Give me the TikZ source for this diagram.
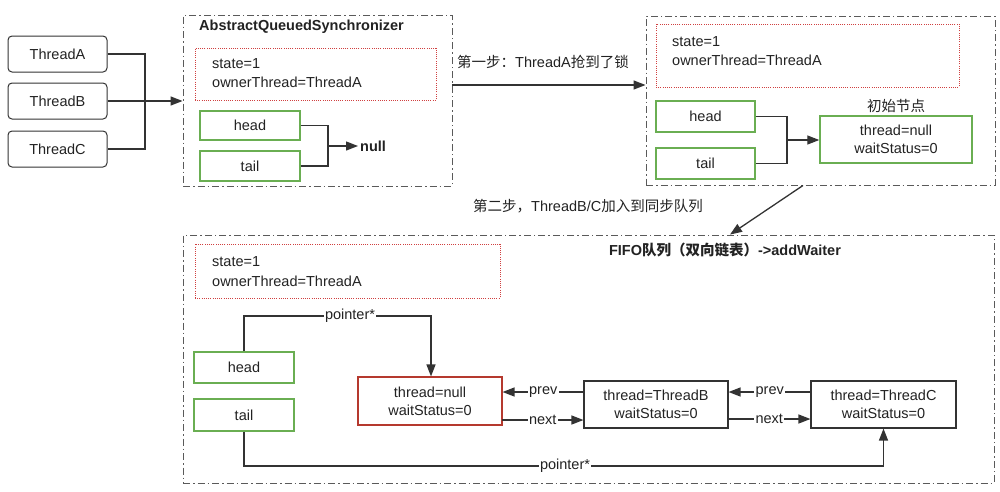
\documentclass[tikz,border=0pt]{standalone}
\usepackage{fontspec}
\setmainfont{Liberation Sans}
\newfontfamily\cjk{Noto Sans CJK SC}
\usetikzlibrary{arrows.meta,calc}
\definecolor{ln}{HTML}{333333}
\definecolor{txtc}{HTML}{222222}
\definecolor{gbox}{HTML}{6AAE52}
\definecolor{rdot}{HTML}{D04040}
\definecolor{rbox}{HTML}{B5392E}
\definecolor{frm}{HTML}{5A5A5A}
\tikzset{
  thbox/.style={draw=ln, rounded corners=4pt, minimum width=99pt, minimum height=36pt, inner sep=0pt, line width=1pt},
  frame/.style={draw=frm, line width=0.9pt, dash pattern=on 7pt off 3pt on 1.5pt off 3pt, inner sep=0pt},
  reddot/.style={draw=rdot, line width=1pt, dash pattern=on 1pt off 1.2pt, inner sep=0pt},
  gnode/.style={draw=gbox, line width=1.4pt, inner sep=0pt, minimum width=100pt, minimum height=30pt},
  qnode/.style={draw=ln, line width=1.1pt, inner sep=0pt, align=center, minimum width=144pt, minimum height=47pt},
  conn/.style={draw=ln, line width=1.3pt},
  arr/.style={conn, -{Triangle[length=12pt,width=9pt]}},
  lbl/.style={inner sep=1.5pt, fill=white},
  txt/.style={inner sep=0pt, anchor=west},
}
\begin{document}
\begin{tikzpicture}[x=1pt,y=-1pt, font=\fontsize{14.5}{18}\selectfont, text=txtc]
\useasboundingbox (0,0) rectangle (1000,491);

% threads
\node[thbox] (tA) at (57.5,54) {ThreadA};
\node[thbox] (tB) at (57.5,101) {ThreadB};
\node[thbox] (tC) at (57.5,149) {ThreadC};

% frame 1
\node[frame, minimum width=269pt, minimum height=171pt] (f1) at (317.5,100.5) {};
\node[txt, font=\fontsize{14.5}{18}\selectfont\bfseries] (t1) at (199,27) {AbstractQueuedSynchronizer};
\node[reddot, minimum width=241pt, minimum height=52pt] (r1) at (315.5,74) {};
\node[txt] (s1) at (212,64) {state=1};
\node[txt] (o1) at (212,82) {ownerThread=ThreadA};
\node[gnode, minimum height=29pt] (h1) at (250,125.5) {head};
\node[gnode] (l1) at (250,166) {tail};
\node[inner sep=2pt, anchor=west, font=\fontsize{14.5}{18}\selectfont\bfseries] (nul) at (358,146) {null};
\coordinate (j1) at (328,146);

% frame 2
\node[frame, minimum width=349pt, minimum height=169pt] (f2) at (820.5,100.5) {};
\node[reddot, minimum width=303pt, minimum height=63pt] (r2) at (807.5,55.5) {};
\node[txt] (s2) at (672,42) {state=1};
\node[txt] (o2) at (672,60) {ownerThread=ThreadA};
\node[gnode, minimum width=99pt, minimum height=31pt] (h2) at (705.5,116.5) {head};
\node[gnode, minimum width=99pt, minimum height=31pt] (l2) at (705.5,163.5) {tail};
\node[gnode, minimum width=152pt, minimum height=47pt, align=center] (ini) at (896,139.5) {thread=null\\waitStatus=0};
\node[inner sep=0pt, font=\fontsize{14.5}{18}\selectfont\cjk] (inl) at (896,106) {初始节点};
\coordinate (j2) at (787,140);

% step labels
\node[inner sep=0pt] (st1) at (543,62) {{\cjk 第一步：}ThreadA{\cjk 抢到了锁}};
\node[inner sep=0pt] (st2) at (588,206) {{\cjk 第二步，}ThreadB/C{\cjk 加入到同步队列}};

% frame 3
\node[frame, minimum width=811pt, minimum height=248pt] (f3) at (588.5,359) {};
\node[reddot, minimum width=305pt, minimum height=54pt] (r3) at (347.5,271) {};
\node[txt] (s3) at (212,262) {state=1};
\node[txt] (o3) at (212,281) {ownerThread=ThreadA};
\node[inner sep=0pt, font=\fontsize{14.5}{18}\selectfont\bfseries] (t3) at (725,250) {FIFO{\cjk 队列（双向链表）}->addWaiter};
\node[gnode, minimum height=31pt] (h3) at (244,367.5) {head};
\node[gnode, minimum height=32pt] (l3) at (244,415) {tail};
\node[qnode, draw=rbox, minimum height=48pt] (n0) at (430,401) {thread=null\\waitStatus=0};
\node[qnode] (nB) at (656,404.5) {thread=ThreadB\\waitStatus=0};
\node[qnode, minimum width=145pt] (nC) at (883.5,404.5) {thread=ThreadC\\waitStatus=0};

% connectors top-left
\draw[conn] (tA.east) -| (145,149) -- (tC.east);
\draw[arr] (tB.east) -- (tB.east -| f1.west);
\draw[conn] (h1.east) -| (j1);
\draw[conn] (l1.east) -| (j1);
\draw[arr] (j1) -- (nul.west);

% step 1
\coordinate (sa) at ([yshift=15.5pt]f1.east);
\draw[arr] (sa) -- (sa -| f2.west);

% frame 2 connectors
\draw[conn] (h2.east) -| (j2);
\draw[conn] (l2.east) -| (j2);
\draw[arr] (j2) -- (j2 -| ini.west);

% step 2
\coordinate (sb) at ([xshift=-17.5pt]f2.south);
\coordinate (sc) at ([xshift=141.5pt]f3.north);
\draw[arr] (sb) -- (sc);

% pointers
\coordinate (pt) at (431,316);
\draw[arr] (h3.north) |- (pt) -- (pt |- n0.north);
\node[lbl] (pl1) at (350,316) {pointer*};
\coordinate (pb) at (883.5,466);
\draw[arr] (l3.south) |- (pb) -- (pb |- nC.south);
\node[lbl] (pl2) at (565,466) {pointer*};

% prev / next
\coordinate (pB) at (584,392);
\draw[arr] (pB) -- (pB -| n0.east) node[lbl, pos=0.5] (pv1) {prev};
\coordinate (xA) at (502,420);
\draw[arr] (xA) -- (xA -| nB.west) node[lbl, pos=0.5] (nx1) {next};
\coordinate (pC) at (811,392);
\draw[arr] (pC) -- (pC -| nB.east) node[lbl, pos=0.5] (pv2) {prev};
\coordinate (xB) at (728,419);
\draw[arr] (xB) -- (xB -| nC.west) node[lbl, pos=0.5] (nx2) {next};
\end{tikzpicture}
\end{document}
